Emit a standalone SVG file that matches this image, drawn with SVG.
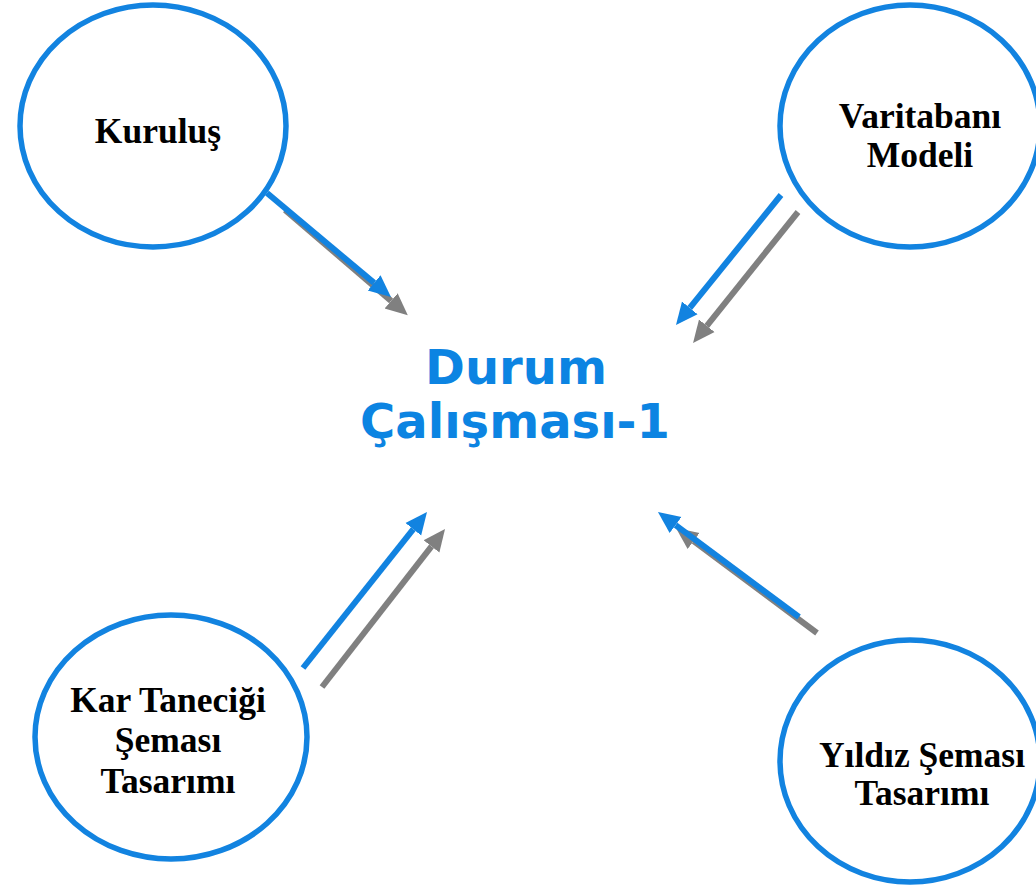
<svg xmlns="http://www.w3.org/2000/svg" width="1036" height="887" viewBox="0 0 1036 887">
<style>
.node{fill:#fff;stroke:#1283e0;stroke-width:5.5}
.lbl{font-family:"Liberation Serif","Times New Roman",serif;font-weight:bold;font-size:35.5px;fill:#000;text-anchor:middle}
.title{font-family:"DejaVu Sans",Verdana,sans-serif;font-weight:bold;font-size:48px;fill:#0c84e2;text-anchor:middle}
.blue{stroke:#1283e0;stroke-width:6;fill:none}
.gray{stroke:#808080;stroke-width:6;fill:none}
</style>
<defs>
<marker id="hb" markerUnits="userSpaceOnUse" viewBox="0 -11 22 22" refX="0" refY="0" markerWidth="22" markerHeight="22" orient="auto">
<path d="M0,-10 L22,0 L0,10 z" fill="#1283e0"/>
</marker>
<marker id="hg" markerUnits="userSpaceOnUse" viewBox="0 -11 22 22" refX="0" refY="0" markerWidth="22" markerHeight="22" orient="auto">
<path d="M0,-10 L22,0 L0,10 z" fill="#808080"/>
</marker>
</defs>
<rect width="1036" height="887" fill="#fff"/>
<g id="connectors">
<line class="gray" x1="285" y1="210" x2="391.1" y2="300.9" marker-end="url(#hg)"/>
<line class="blue" x1="267" y1="193" x2="374.1" y2="282.9" marker-end="url(#hb)"/>
<line class="gray" x1="798" y1="212" x2="706.8" y2="325.8" marker-end="url(#hg)"/>
<line class="blue" x1="781" y1="195" x2="689.8" y2="307.9" marker-end="url(#hb)"/>
<line class="gray" x1="322" y1="687" x2="431.5" y2="546.4" marker-end="url(#hg)"/>
<line class="blue" x1="303" y1="668" x2="413.3" y2="529.2" marker-end="url(#hb)"/>
<line class="gray" x1="817" y1="633" x2="693.6" y2="541.1" marker-end="url(#hg)"/>
<line class="blue" x1="799" y1="617" x2="675.6" y2="525.1" marker-end="url(#hb)"/>
</g>
<g id="kurulus">
<ellipse class="node" cx="153" cy="126" rx="133" ry="121"/>
<text class="lbl" x="158" y="143">Kuruluş</text>
</g>
<g id="veritabani">
<ellipse class="node" cx="910" cy="126" rx="130" ry="121"/>
<text class="lbl" x="920" y="128">Varitabanı</text>
<text class="lbl" x="920" y="167">Modeli</text>
</g>
<g id="kartanecigi">
<ellipse class="node" cx="171" cy="737" rx="136" ry="122"/>
<text class="lbl" x="168" y="712">Kar Taneciği</text>
<text class="lbl" x="168" y="752">Şeması</text>
<text class="lbl" x="168" y="793">Tasarımı</text>
</g>
<g id="yildiz">
<ellipse class="node" cx="910" cy="761" rx="130" ry="121"/>
<text class="lbl" x="922" y="767">Yıldız Şeması</text>
<text class="lbl" x="922" y="805">Tasarımı</text>
</g>
<g id="durum">
<text class="title" x="516" y="384">Durum</text>
<text class="title" x="515" y="438">Çalışması-1</text>
</g>
</svg>
